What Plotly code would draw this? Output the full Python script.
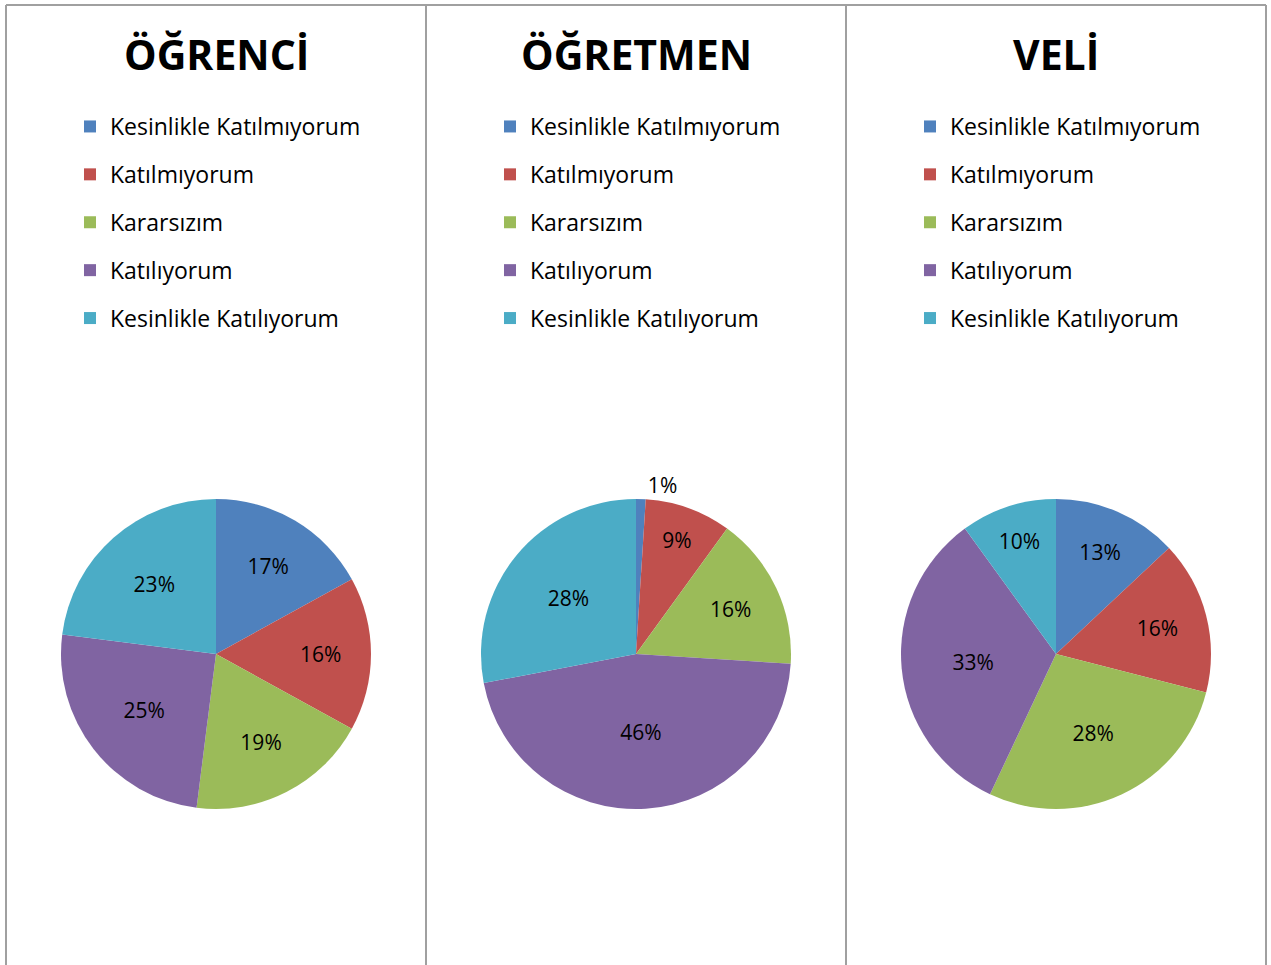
import plotly.graph_objects as go

W, H = 1271, 965

categories = ["Kesinlikle Katılmıyorum", "Katılmıyorum", "Kararsızım",
              "Katılıyorum", "Kesinlikle Katılıyorum"]
colors = ["#4F81BD", "#C0504D", "#9BBB59", "#8064A2", "#4BACC6"]
titles = ["ÖĞRENCİ", "ÖĞRETMEN", "VELİ"]
ogrenci = [17, 16, 19, 25, 23]
ogretmen = [1, 9, 16, 46, 28]
veli = [13, 16, 28, 33, 10]
series = [ogrenci, ogretmen, veli]


def px(x):
    return x / W


def py(y):
    return 1 - y / H


centers_px = [216, 636, 1056]
cy_px = 654
radius_px = 155

fig = go.Figure()
legend_names = ["legend", "legend2", "legend3"]

for i, vals in enumerate(series):
    cx = centers_px[i]
    tp = ["outside" if v < 3 else "inside" for v in vals]
    fig.add_trace(go.Pie(
        labels=categories, values=vals, sort=False, direction="clockwise",
        rotation=0, marker=dict(colors=colors, line=dict(width=0)),
        texttemplate="%{value}%", textposition=tp,
        insidetextorientation="horizontal",
        textfont=dict(family="Open Sans", size=21, color="black"),
        outsidetextfont=dict(family="Open Sans", size=21, color="black"),
        domain=dict(x=[px(cx - radius_px), px(cx + radius_px)],
                    y=[py(cy_px + radius_px), py(cy_px - radius_px)]),
        showlegend=False, hoverinfo="label+percent",
    ))
    for j, cat in enumerate(categories):
        fig.add_trace(go.Scatter(
            x=[None], y=[None], mode="markers", name=cat,
            marker=dict(symbol="square", size=16, color=colors[j]),
            legend=legend_names[i], legendgroup=f"g{i}_{j}", showlegend=True,
        ))

shapes = []
line_col = "#A0A0A0"
for xp in [6, 426, 846, 1266]:
    shapes.append(dict(type="line", xref="paper", yref="paper",
                       x0=px(xp), x1=px(xp), y0=0, y1=py(5),
                       line=dict(color=line_col, width=2)))
shapes.append(dict(type="line", xref="paper", yref="paper",
                   x0=px(6), x1=px(1266), y0=py(5), y1=py(5),
                   line=dict(color=line_col, width=2)))

annotations = []
for i, t in enumerate(titles):
    annotations.append(dict(text=f"<b>{t}</b>", x=px(centers_px[i]), y=py(54),
                            xref="paper", yref="paper", showarrow=False,
                            xanchor="center", yanchor="middle",
                            font=dict(family="Open Sans", size=41, color="black")))

legend_x = [70, 490, 910]
layout_legends = {}
for i, ln in enumerate(legend_names):
    layout_legends[ln] = dict(
        x=px(legend_x[i]), y=py(105), xanchor="left", yanchor="top",
        xref="paper", yref="paper", bgcolor="rgba(0,0,0,0)",
        font=dict(family="Open Sans", size=23, color="black"),
        tracegroupgap=15, itemsizing="constant",
    )

fig.update_layout(
    width=W, height=H, margin=dict(l=0, r=0, t=0, b=0),
    paper_bgcolor="white", plot_bgcolor="white",
    xaxis=dict(visible=False), yaxis=dict(visible=False),
    shapes=shapes, annotations=annotations, **layout_legends,
)

fig.write_html("out.html", config={"displayModeBar": False},
               post_script="document.body.style.margin='0';document.body.style.overflow='hidden';")
